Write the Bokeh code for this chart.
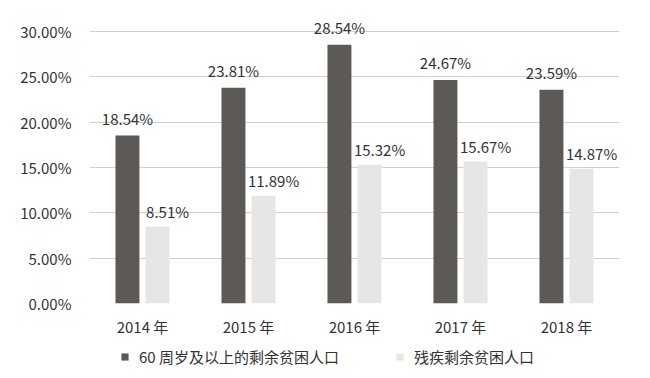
from bokeh.plotting import figure
from bokeh.layouts import column
from bokeh.models import FactorRange, Range1d, FixedTicker, NumeralTickFormatter, ColumnDataSource, Legend, LegendItem
from bokeh.transform import dodge
from bokeh.core.properties import value
from bokeh.embed import file_html
from bokeh.resources import INLINE

years = ["2014 年", "2015 年", "2016 年", "2017 年", "2018 年"]
elderly = [0.1854, 0.2381, 0.2854, 0.2467, 0.2359]
disabled = [0.0851, 0.1189, 0.1532, 0.1567, 0.1487]
series_names = ["60 周岁及以上的剩余贫困人口", "残疾剩余贫困人口"]
y_ticks = [0, 0.05, 0.10, 0.15, 0.20, 0.25, 0.30]

FONT = "Noto Sans CJK SC"
FS = "15px"
TXT = "#333333"
DARK = "#5c5957"
LIGHT = "#e7e6e4"

src = ColumnDataSource(dict(
    year=years,
    elderly=elderly,
    disabled=disabled,
    elderly_lbl=["{:.2f}%".format(v * 100) for v in elderly],
    disabled_lbl=["{:.2f}%".format(v * 100) for v in disabled],
))

p = figure(width=634, height=340, x_range=FactorRange(factors=years, range_padding=0),
           y_range=Range1d(0, 0.32), output_backend="svg", toolbar_location=None,
           min_border_left=89, min_border_right=15, min_border_top=13, min_border_bottom=37)
p.outline_line_color = None

p.vbar(x=dodge("year", -0.142, range=p.x_range), top="elderly", width=0.226, source=src,
       fill_color=DARK, line_color=None)
p.vbar(x=dodge("year", 0.142, range=p.x_range), top="disabled", width=0.226, source=src,
       fill_color=LIGHT, line_color=None)

p.text(x=dodge("year", -0.142, range=p.x_range), y="elderly", text="elderly_lbl", source=src,
       text_align="center", text_baseline="middle", y_offset=-17,
       text_font=value(FONT), text_font_size=FS, text_color=TXT)
p.text(x=dodge("year", 0.142, range=p.x_range), y="disabled", text="disabled_lbl", source=src,
       text_align="center", text_baseline="middle", y_offset=-15, x_offset=10,
       text_font=value(FONT), text_font_size=FS, text_color=TXT)

p.yaxis.ticker = FixedTicker(ticks=y_ticks)
p.yaxis.formatter = NumeralTickFormatter(format="0.00%")
p.ygrid.ticker = FixedTicker(ticks=y_ticks)
p.ygrid.grid_line_color = "#d0d0d0"
p.xgrid.grid_line_color = None
for ax in (p.xaxis[0], p.yaxis[0]):
    ax.axis_line_color = None
    ax.major_tick_line_color = None
    ax.minor_tick_line_color = None
    ax.major_label_text_font = FONT
    ax.major_label_text_font_size = FS
    ax.major_label_text_color = TXT
p.yaxis.major_label_standoff = 12
p.xaxis.major_label_standoff = 6

# legend strip below the chart
lg = figure(width=634, height=30, x_range=Range1d(0, 1), y_range=Range1d(0, 1),
            output_backend="svg", toolbar_location=None, x_axis_type=None, y_axis_type=None,
            min_border_left=89, min_border_right=15, min_border_top=0, min_border_bottom=0)
lg.outline_line_color = None
dummy = ColumnDataSource(dict(x=[-5], top=[0]))
d1 = lg.vbar(x="x", top="top", width=0.1, source=dummy, fill_color=DARK, line_color=None)
d2 = lg.vbar(x="x", top="top", width=0.1, source=dummy, fill_color=LIGHT, line_color=None)
legend = Legend(items=[LegendItem(label=series_names[0], renderers=[d1]),
                       LegendItem(label=series_names[1], renderers=[d2])],
                orientation="horizontal", location=(31, 3),
                label_text_font=FONT, label_text_font_size=FS, label_text_color=TXT,
                glyph_width=9, glyph_height=9, label_standoff=10, spacing=56,
                padding=0, margin=0, border_line_color=None, background_fill_alpha=0)
lg.add_layout(legend)

open("out.html", "w").write(file_html(column(p, lg), INLINE))
